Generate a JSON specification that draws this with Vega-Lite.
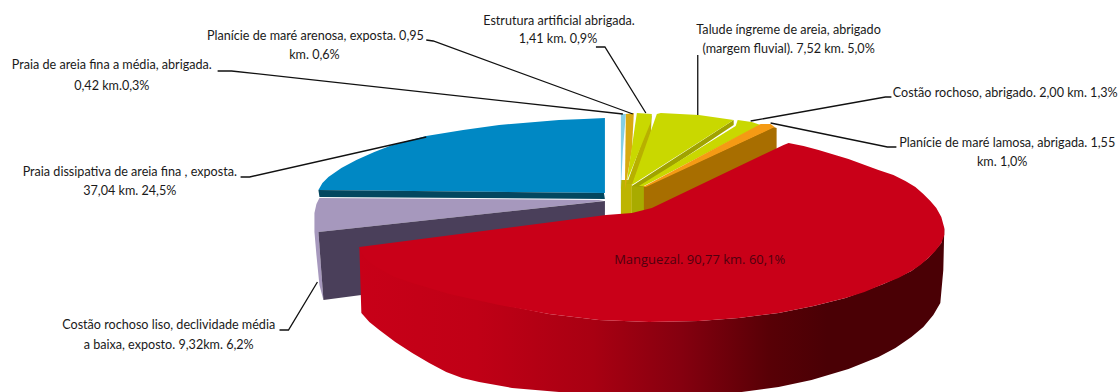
{"$schema":"https://vega.github.io/schema/vega-lite/v6.json","width":1118,"height":392,"autosize":{"type":"fit","contains":"padding"},"padding":0,"background":"white","view":{"stroke":null},
"datasets":{
"side":[
{"i":1,"x":946,"y":228},{"i":2,"x":943,"y":243},{"i":3,"x":930,"y":258},{"i":4,"x":913,"y":271},{"i":5,"x":885,"y":284},{"i":6,"x":847,"y":298},{"i":7,"x":815,"y":306},{"i":8,"x":780,"y":313},{"i":9,"x":740,"y":318},{"i":10,"x":700,"y":321},{"i":11,"x":650,"y":322},{"i":12,"x":600,"y":320},{"i":13,"x":550,"y":314},{"i":14,"x":500,"y":304},{"i":15,"x":450,"y":293},{"i":16,"x":360,"y":247},{"i":17,"x":362,"y":313},{"i":18,"x":370,"y":322},{"i":19,"x":380,"y":330},{"i":20,"x":396,"y":342},{"i":21,"x":413,"y":353},{"i":22,"x":430,"y":363},{"i":23,"x":447,"y":372},{"i":24,"x":463,"y":378},{"i":25,"x":480,"y":382},{"i":26,"x":513,"y":388},{"i":27,"x":560,"y":392},{"i":28,"x":743,"y":392},{"i":29,"x":780,"y":387},{"i":30,"x":813,"y":380},{"i":31,"x":850,"y":369},{"i":32,"x":880,"y":357},{"i":33,"x":897,"y":348},{"i":34,"x":913,"y":337},{"i":35,"x":925,"y":327},{"i":36,"x":935,"y":315},{"i":37,"x":942,"y":303},{"i":38,"x":945,"y":270}],
"faces":[
{"shape":"a blue","i":1,"x":606,"y":118},{"shape":"a blue","i":2,"x":606,"y":193},{"shape":"a blue","i":3,"x":319,"y":190},{"shape":"a blue","i":4,"x":323,"y":183},{"shape":"a blue","i":5,"x":329,"y":177},{"shape":"a blue","i":6,"x":342,"y":168},{"shape":"a blue","i":7,"x":357,"y":160},{"shape":"a blue","i":8,"x":375,"y":152},{"shape":"a blue","i":9,"x":393,"y":145},{"shape":"a blue","i":10,"x":427,"y":136},{"shape":"a blue","i":11,"x":464,"y":130},{"shape":"a blue","i":12,"x":500,"y":125},{"shape":"a blue","i":13,"x":536,"y":122},{"shape":"a blue","i":14,"x":560,"y":120},{"shape":"a blue","i":15,"x":585,"y":119},
{"shape":"b band","i":1,"x":319,"y":190},{"shape":"b band","i":2,"x":605,"y":193},{"shape":"b band","i":3,"x":606,"y":199},{"shape":"b band","i":4,"x":320,"y":197},
{"shape":"c mauve","i":1,"x":320,"y":198},{"shape":"c mauve","i":2,"x":600,"y":200},{"shape":"c mauve","i":3,"x":605,"y":201},{"shape":"c mauve","i":4,"x":319,"y":232},{"shape":"c mauve","i":5,"x":324,"y":300},{"shape":"c mauve","i":6,"x":320,"y":285},{"shape":"c mauve","i":7,"x":317,"y":255},{"shape":"c mauve","i":8,"x":315,"y":232},{"shape":"c mauve","i":9,"x":315,"y":213},{"shape":"c mauve","i":10,"x":317,"y":204},
{"shape":"d purple","i":1,"x":319,"y":232},{"shape":"d purple","i":2,"x":606,"y":201},{"shape":"d purple","i":3,"x":606,"y":222},{"shape":"d purple","i":4,"x":400,"y":290},{"shape":"d purple","i":5,"x":324,"y":300},
{"shape":"e olive1","i":1,"x":622,"y":180},{"shape":"e olive1","i":2,"x":633,"y":180},{"shape":"e olive1","i":3,"x":633,"y":218},{"shape":"e olive1","i":4,"x":622,"y":218},
{"shape":"f olive2","i":1,"x":633,"y":186},{"shape":"f olive2","i":2,"x":647,"y":186},{"shape":"f olive2","i":3,"x":647,"y":215},{"shape":"f olive2","i":4,"x":633,"y":215},
{"shape":"g lightblue","i":1,"x":622,"y":114},{"shape":"g lightblue","i":2,"x":627,"y":114},{"shape":"g lightblue","i":3,"x":624,"y":150},{"shape":"g lightblue","i":4,"x":622,"y":190},
{"shape":"h gold","i":1,"x":627,"y":114},{"shape":"h gold","i":2,"x":635,"y":113},{"shape":"h gold","i":3,"x":633,"y":150},{"shape":"h gold","i":4,"x":626,"y":190},
{"shape":"i olive3","i":1,"x":653,"y":114},{"shape":"i olive3","i":2,"x":652,"y":134},{"shape":"i olive3","i":3,"x":634,"y":184},{"shape":"i olive3","i":4,"x":628,"y":184},
{"shape":"j yellow","i":1,"x":638,"y":113},{"shape":"j yellow","i":2,"x":653,"y":114},{"shape":"j yellow","i":3,"x":652,"y":122},{"shape":"j yellow","i":4,"x":628,"y":181},
{"shape":"k olive4","i":1,"x":735,"y":120},{"shape":"k olive4","i":2,"x":735,"y":125},{"shape":"k olive4","i":3,"x":642,"y":187},{"shape":"k olive4","i":4,"x":633,"y":186},
{"shape":"l yellow","i":1,"x":658,"y":114},{"shape":"l yellow","i":2,"x":662,"y":113},{"shape":"l yellow","i":3,"x":700,"y":115},{"shape":"l yellow","i":4,"x":735,"y":120},{"shape":"l yellow","i":5,"x":633,"y":185},
{"shape":"m yellow","i":1,"x":739,"y":120},{"shape":"m yellow","i":2,"x":753,"y":122},{"shape":"m yellow","i":3,"x":762,"y":125},{"shape":"m yellow","i":4,"x":645,"y":186},{"shape":"m yellow","i":5,"x":640,"y":186},{"shape":"m yellow","i":6,"x":737,"y":126},
{"shape":"n brown","i":1,"x":775,"y":127},{"shape":"n brown","i":2,"x":778,"y":128},{"shape":"n brown","i":3,"x":778,"y":150},{"shape":"n brown","i":4,"x":653,"y":212},{"shape":"n brown","i":5,"x":645,"y":212},{"shape":"n brown","i":6,"x":645,"y":187},
{"shape":"o orange","i":1,"x":762,"y":124},{"shape":"o orange","i":2,"x":772,"y":124},{"shape":"o orange","i":3,"x":776,"y":127},{"shape":"o orange","i":4,"x":647,"y":187},{"shape":"o orange","i":5,"x":644,"y":187}],
"top":[
{"i":1,"x":653,"y":208},{"i":2,"x":785,"y":145},{"i":3,"x":790,"y":143},{"i":4,"x":805,"y":146},{"i":5,"x":820,"y":150},{"i":6,"x":850,"y":159},{"i":7,"x":880,"y":170},{"i":8,"x":895,"y":175},{"i":9,"x":907,"y":181},{"i":10,"x":917,"y":187},{"i":11,"x":925,"y":194},{"i":12,"x":932,"y":201},{"i":13,"x":938,"y":208},{"i":14,"x":943,"y":217},{"i":15,"x":946,"y":228},{"i":16,"x":946,"y":235},{"i":17,"x":943,"y":243},{"i":18,"x":937,"y":251},{"i":19,"x":930,"y":258},{"i":20,"x":922,"y":265},{"i":21,"x":913,"y":271},{"i":22,"x":900,"y":278},{"i":23,"x":885,"y":284},{"i":24,"x":866,"y":292},{"i":25,"x":847,"y":298},{"i":26,"x":815,"y":306},{"i":27,"x":780,"y":313},{"i":28,"x":740,"y":318},{"i":29,"x":700,"y":321},{"i":30,"x":650,"y":322},{"i":31,"x":600,"y":320},{"i":32,"x":550,"y":314},{"i":33,"x":500,"y":305},{"i":34,"x":450,"y":294},{"i":35,"x":413,"y":283},{"i":36,"x":395,"y":277},{"i":37,"x":375,"y":266},{"i":38,"x":366,"y":259},{"i":39,"x":362,"y":253},{"i":40,"x":360,"y":247},{"i":41,"x":607,"y":215},{"i":42,"x":633,"y":213}],
"leaders":[
{"slice":"Estrutura artificial","i":1,"x":597,"y":47},{"slice":"Estrutura artificial","i":2,"x":606,"y":47},{"slice":"Estrutura artificial","i":3,"x":647,"y":113},
{"slice":"Planície arenosa","i":1,"x":427,"y":40},{"slice":"Planície arenosa","i":2,"x":434,"y":41},{"slice":"Planície arenosa","i":3,"x":634,"y":114},
{"slice":"Praia média","i":1,"x":218,"y":71},{"slice":"Praia média","i":2,"x":232,"y":71},{"slice":"Praia média","i":3,"x":624,"y":114},
{"slice":"Praia dissipativa","i":1,"x":241,"y":177},{"slice":"Praia dissipativa","i":2,"x":250,"y":177},{"slice":"Praia dissipativa","i":3,"x":427,"y":137},
{"slice":"Talude","i":1,"x":699,"y":55},{"slice":"Talude","i":2,"x":699,"y":115},
{"slice":"Costão abrigado","i":1,"x":893,"y":97},{"slice":"Costão abrigado","i":2,"x":887,"y":97},{"slice":"Costão abrigado","i":3,"x":752,"y":121},
{"slice":"Planície lamosa","i":1,"x":898,"y":147},{"slice":"Planície lamosa","i":2,"x":889,"y":147},{"slice":"Planície lamosa","i":3,"x":772,"y":123},
{"slice":"Costão liso","i":1,"x":280,"y":330},{"slice":"Costão liso","i":2,"x":289,"y":330},{"slice":"Costão liso","i":3,"x":318,"y":282}],
"labels":[
{"text":"Estrutura artificial abrigada.","x":560,"y":21},{"text":"1,41 km. 0,9%","x":559,"y":39},
{"text":"Planície de maré arenosa, exposta. 0,95","x":316,"y":36},{"text":"km. 0,6%","x":315,"y":55},
{"text":"Praia de areia fina a média, abrigada.","x":112,"y":65},{"text":"0,42 km.0,3%","x":112,"y":86},
{"text":"Talude íngreme de areia, abrigado","x":790,"y":30},{"text":"(margem fluvial).   7,52 km. 5,0%","x":790,"y":49},
{"text":"Costão rochoso, abrigado. 2,00 km. 1,3%","x":1007,"y":93},
{"text":"Planície de maré lamosa, abrigada. 1,55","x":1009,"y":143},{"text":"km. 1,0%","x":1004,"y":162},
{"text":"Praia dissipativa de areia fina , exposta.","x":130,"y":172},{"text":"37,04 km. 24,5%","x":130,"y":191},
{"text":"Costão rochoso liso, declividade média","x":169,"y":325},{"text":"a baixa, exposto. 9,32km. 6,2%","x":169,"y":345}]
},
"encoding":{
"x":{"field":"x","type":"quantitative","scale":{"domain":[0,1118],"nice":false,"zero":false},"axis":null},
"y":{"field":"y","type":"quantitative","scale":{"domain":[392,0],"nice":false,"zero":false},"axis":null}},
"layer":[
{"data":{"name":"faces"},"mark":{"type":"line","strokeWidth":0,"clip":true},
"encoding":{"order":{"field":"i","type":"quantitative"},"fill":{"field":"shape","type":"nominal","legend":null,"scale":{"domain":["a blue","b band","c mauve","d purple","e olive1","f olive2","g lightblue","h gold","i olive3","j yellow","k olive4","l yellow","m yellow","n brown","o orange"],"range":["#0088c4","#03475f","#a698bd","#4a3f5a","#bdb400","#a8ab00","#85cfe5","#d8aa10","#b8b000","#c9d800","#a0a300","#c9d800","#c9d800","#a86e00","#f59a14"]}},"detail":{"field":"shape"}}},
{"data":{"name":"side"},"mark":{"type":"line","strokeWidth":0,"fill":{"gradient":"linear","x1":0,"y1":0,"x2":1,"y2":0,"stops":[{"offset":0,"color":"#c80018"},{"offset":0.2,"color":"#c00016"},{"offset":0.4,"color":"#a80012"},{"offset":0.55,"color":"#85000f"},{"offset":0.7,"color":"#580006"},{"offset":0.8,"color":"#4a0005"},{"offset":1,"color":"#4a0005"}]}},
"encoding":{"order":{"field":"i","type":"quantitative"}}},
{"data":{"name":"top"},"mark":{"type":"line","strokeWidth":0,"fill":"#c90018"},
"encoding":{"order":{"field":"i","type":"quantitative"}}},
{"data":{"name":"leaders"},"mark":{"type":"line","stroke":"#111111","strokeWidth":1.3},
"encoding":{"order":{"field":"i","type":"quantitative"},"detail":{"field":"slice"}}},
{"data":{"name":"labels"},"mark":{"type":"text","font":"Lato","fontSize":12.6,"color":"#1a1a1a","align":"center","baseline":"middle"},
"encoding":{"text":{"field":"text"}}},
{"data":{"values":[{"text":"Manguezal. 90,77 km. 60,1%","x":701,"y":260}]},"mark":{"type":"text","font":"Open Sans","fontSize":13,"color":"#50000f","align":"center","baseline":"middle"},
"encoding":{"text":{"field":"text"}}}
]}
